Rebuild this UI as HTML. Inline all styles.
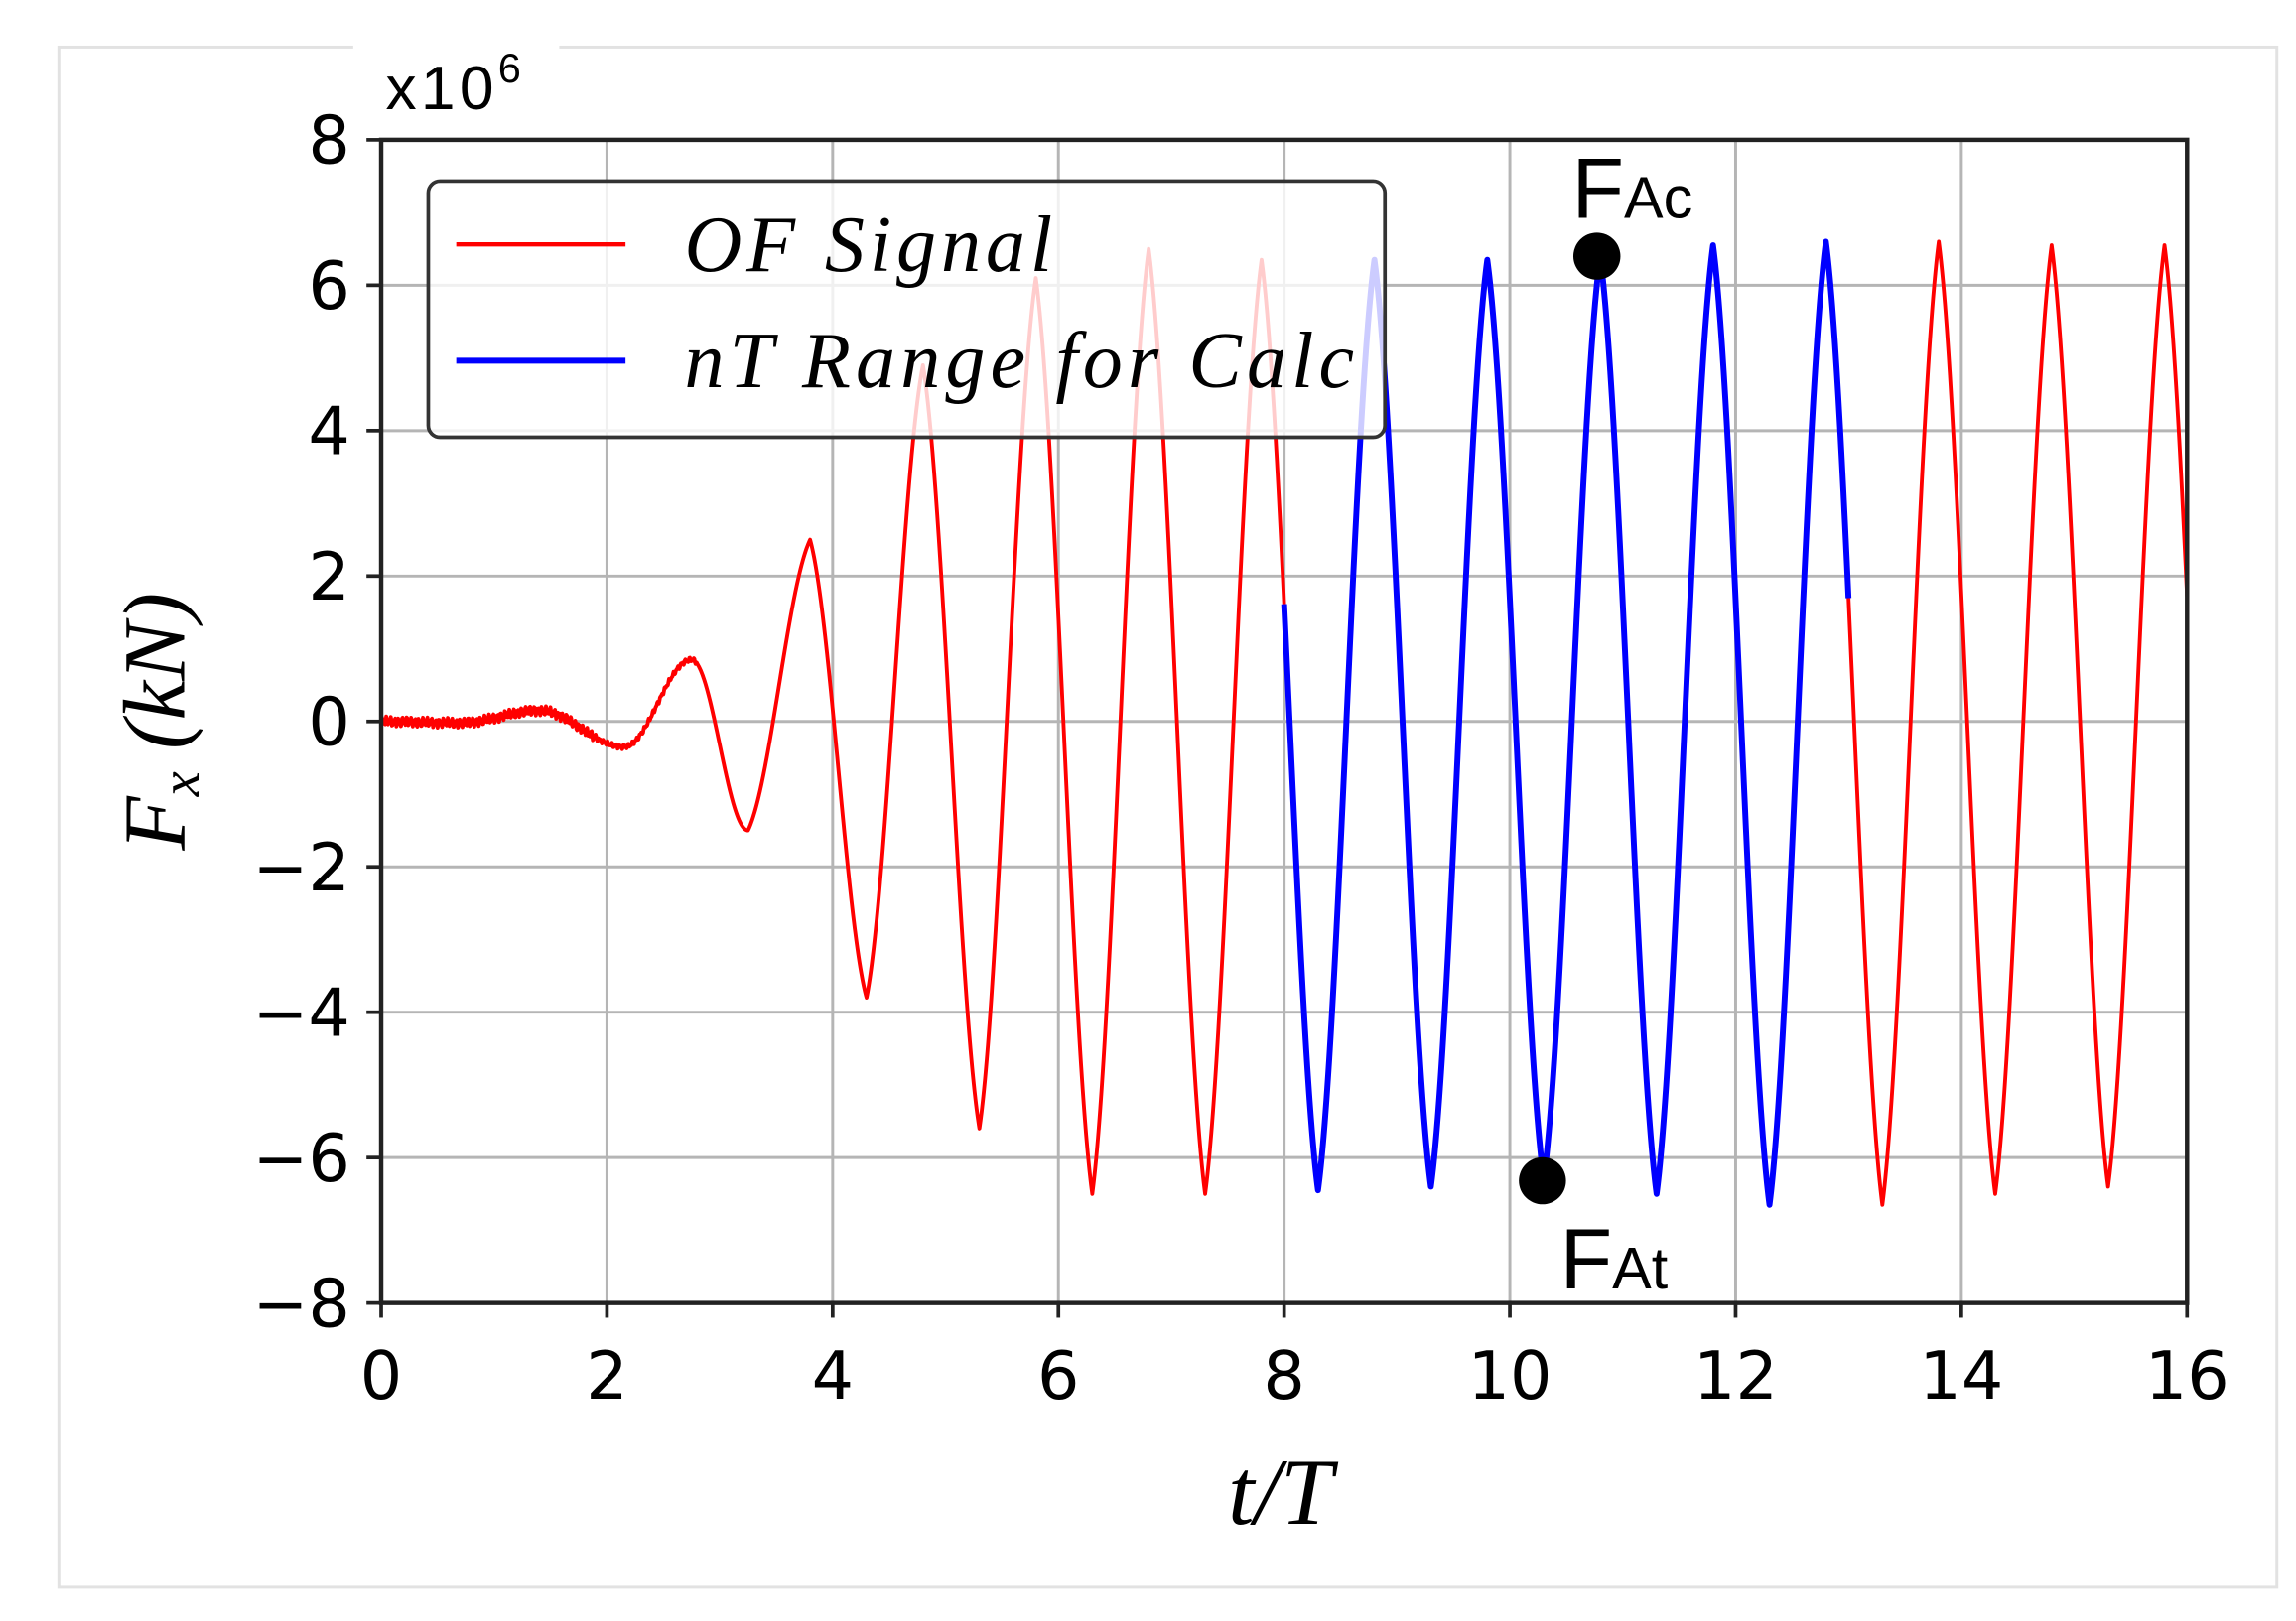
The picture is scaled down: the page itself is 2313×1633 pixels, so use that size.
<!DOCTYPE html>
<html><head><meta charset="utf-8"><style>
html,body{margin:0;padding:0;background:#fff;}
svg{display:block;}
</style></head><body>
<svg id="s" width="2313" height="1633" viewBox="0 0 1560 1101" preserveAspectRatio="none" xmlns="http://www.w3.org/2000/svg">
<rect x="40" y="32" width="1507" height="1046" fill="#fff" stroke="#e2e2e2" stroke-width="2"/>
<rect x="240" y="25" width="140" height="14" fill="#fff"/>
<g id="grid" stroke="#b5b5b5" stroke-width="2"></g>
<g id="curves" fill="none" stroke-linejoin="round"></g>
<g id="axes"></g>
<rect x="291" y="123" width="650" height="174" rx="8" fill="#fff" fill-opacity="0.8" stroke="#333" stroke-width="2.5"/>
<line x1="310" y1="166" x2="425" y2="166" stroke="#f00" stroke-width="3"/>
<line x1="310" y1="245" x2="425" y2="245" stroke="#00f" stroke-width="4"/>
<text x="465" y="184" font-family="Liberation Serif, serif" font-style="italic" font-size="54" textLength="250">OF Signal</text>
<text x="465" y="263" font-family="Liberation Serif, serif" font-style="italic" font-size="54" textLength="455">nT Range for Calc</text>
<text x="262" y="74" font-family="Liberation Sans, sans-serif" font-size="42" textLength="92">x10<tspan font-size="28" dy="-18">6</tspan></text>
<circle cx="1085" cy="174" r="16" fill="#000"/>
<circle cx="1048" cy="802" r="16" fill="#000"/>
<text x="1068" y="148" font-family="Liberation Sans, sans-serif" font-size="58">F<tspan font-size="40">Ac</tspan></text>
<text x="1060" y="875" font-family="Liberation Sans, sans-serif" font-size="58">F<tspan font-size="40">At</tspan></text>
<text x="870" y="1035" font-family="Liberation Serif, serif" font-style="italic" font-size="64" text-anchor="middle">t/T</text>
<text transform="translate(125,490) rotate(-90)" font-family="Liberation Serif, serif" font-style="italic" font-size="60" text-anchor="middle">F<tspan font-size="38" dy="10">x</tspan><tspan dy="-10">  (kN)</tspan></text>
</svg>
<script>
var NS="http://www.w3.org/2000/svg";
function X(t){return 259+t*(1486-259)/16;}
function Y(v){return 490-v*49.375;}
function el(p,tag,a){var e=document.createElementNS(NS,tag);for(var k in a)e.setAttribute(k,a[k]);p.appendChild(e);return e;}
var g=document.getElementById('grid'),ax=document.getElementById('axes');
for(var t=0;t<=16;t+=2){el(g,'line',{x1:X(t),y1:95,x2:X(t),y2:885});}
for(var v=-8;v<=8;v+=2){el(g,'line',{x1:259,y1:Y(v),x2:1486,y2:Y(v)});}
el(ax,'rect',{x:259,y:95,width:1227,height:790,fill:'none',stroke:'#222','stroke-width':3});
for(var t=0;t<=16;t+=2){el(ax,'line',{x1:X(t),y1:885,x2:X(t),y2:895,stroke:'#222','stroke-width':2.5});
 var tx=el(ax,'text',{x:X(t),y:950,'font-family':'DejaVu Sans, sans-serif','font-size':45,'text-anchor':'middle'});tx.textContent=t;}
for(var v=-8;v<=8;v+=2){el(ax,'line',{x1:249,y1:Y(v),x2:259,y2:Y(v),stroke:'#222','stroke-width':2.5});
 var tx=el(ax,'text',{x:238,y:Y(v)+16,'font-family':'DejaVu Sans, sans-serif','font-size':45,'text-anchor':'end'});tx.textContent=(v<0?'\u2212'+(-v):v);}
var E=[[0,0],[0.7,-0.02],[1.4,0.15],[2.15,-0.35],[2.75,0.85],[3.25,-1.5],[3.8,2.5],[4.3,-3.8],[4.8,4.9],[5.3,-5.6],[5.8,6.1],[6.3,-6.5],[6.8,6.5],[7.3,-6.5],[7.8,6.35],[8.3,-6.45],[8.8,6.35],[9.3,-6.4],[9.8,6.35],[10.3,-6.3],[10.8,6.4],[11.3,-6.5],[11.8,6.55],[12.3,-6.65],[12.8,6.6],[13.3,-6.65],[13.8,6.6],[14.3,-6.5],[14.8,6.55],[15.3,-6.4],[15.8,6.55],[16.3,-6.5]];
function f(t){for(var i=0;i<E.length-1;i++){if(t<=E[i+1][0]){var a=E[i],b=E[i+1],s=(t-a[0])/(b[0]-a[0]);
 var w=(1-Math.cos(Math.PI*s))/2; if(a[0]>=3)w=0.55*w+0.45*s; return a[1]+(b[1]-a[1])*w;}}return 0;}
function path(t0,t1){var d='';for(var t=t0;t<=t1+1e-9;t+=0.005){var v=f(t);if(t<2.8)v+=(Math.sin(t*173)*0.04+Math.sin(t*311)*0.03)*(t<1.9?1:0.5);
 d+=(d?'L':'M')+X(t).toFixed(2)+','+Y(v).toFixed(2);}return d;}
var c=document.getElementById('curves');
el(c,'path',{d:path(0,8),stroke:'#f00','stroke-width':2.6});
el(c,'path',{d:path(13,16),stroke:'#f00','stroke-width':2.6});
el(c,'path',{d:path(8,13),stroke:'#00f','stroke-width':4});
</script>
</body></html>
